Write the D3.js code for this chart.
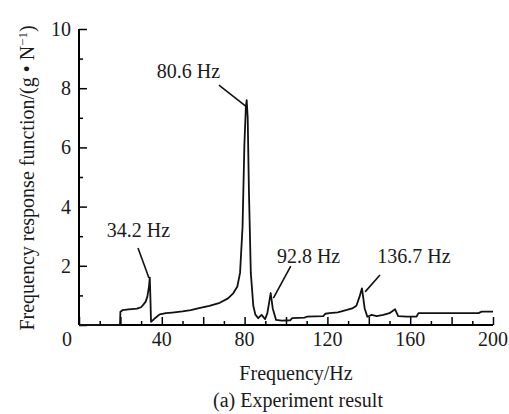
<!DOCTYPE html>
<html>
<head>
    <title>frf</title>
    <style>
        body {
            background: #ffffff;
            margin: 0;
            padding: 0;
        }
        svg text {
            font-family: "Liberation Serif", "Times New Roman", serif;
            fill: #1a1a1a;
        }
    </style>
</head>
<body>
    <svg id="chart" width="509" height="414"></svg>

    <script src="https://d3js.org/d3.v7.min.js"></script>
    <script>
        // measured curve (Hz, g/N)
        const freq = [0, 19.8, 20, 21, 24, 28, 30, 31, 32.2, 33, 33.8, 34.2, 34.5, 34.8, 35.5, 36.7, 39, 42, 45, 50,
            54, 58, 63, 68, 72, 74.6, 76.5, 77.8, 79, 79.9, 80.6, 81, 81.5, 82.1, 83, 84.2, 85.2, 86.6, 88.2, 89.9,
            91, 92.6, 93.6, 95.2, 98, 102, 103, 109, 110, 118, 119, 121, 125, 129, 132, 134, 135.5, 136.7, 138, 139.3,
            141.4, 143.8, 147, 150, 152.7, 154.2, 158.3, 163, 164, 170, 180, 193, 194.5, 200];
        const frf = [0, 0, 0.45, 0.5, 0.53, 0.55, 0.6, 0.68, 0.79, 0.95, 1.3, 1.6, 0.9, 0.11, 0.15, 0.23, 0.36, 0.4, 0.42, 0.46,
            0.5, 0.57, 0.65, 0.75, 0.9, 1.08, 1.3, 1.76, 3.3, 6.1, 7.35, 7.6, 7.0, 4.5, 1.76, 0.65, 0.35, 0.23, 0.34, 0.2,
            0.4, 1.08, 0.56, 0.17, 0.15, 0.16, 0.23, 0.25, 0.28, 0.3, 0.38, 0.4, 0.43, 0.5, 0.56, 0.65, 0.95, 1.24, 0.56, 0.28,
            0.34, 0.3, 0.34, 0.4, 0.53, 0.3, 0.28, 0.28, 0.4, 0.4, 0.4, 0.4, 0.45, 0.45];

        // peak labels and their leader lines (data units)
        const peakLabels = ['34.2 Hz', '80.6 Hz', '92.8 Hz', '136.7 Hz'];
        const labelX = [28.7, 52.9, 110.9, 161.8];
        const labelY = [2.97, 8.34, 2.09, 2.09];
        const leaderFrom = [[28.5, 2.6], [67.6, 8.1], [102.3, 1.99], [145.4, 1.69]];
        const leaderTo = [[33.8, 1.59], [81, 7.37], [93.9, 0.91], [138.2, 1.12]];

        const xTicks = [0, 40, 80, 120, 160, 200];
        const yTicks = [2, 4, 6, 8, 10];

        const svg = d3.select('#chart');

        const x = d3.scaleLinear().domain([0, 200]).range([79, 493]);
        const y = d3.scaleLinear().domain([0, 10]).range([325, 29]);

        // x axis, ticks pointing inward
        const xAxis = svg.append('g').attr('transform', `translate(0, ${y(0)})`);
        xAxis.call(d3.axisTop(x).tickValues(d3.range(0, 201, 10)).tickSize(4).tickFormat(''));
        xAxis.selectAll('.tick line').filter(d => d % 20 === 0).attr('y2', -8);
        xAxis.select('.domain').attr('stroke-width', 2).attr('d', `M${x(0)},0H${x(200)}`);
        xAxis.selectAll('.tick line').attr('stroke-width', 1.5);

        svg.append('g').selectAll('text')
            .data(xTicks)
            .join('text')
            .attr('x', d => x(d) + (d === 0 ? -12 : 0))
            .attr('y', y(0) + 21)
            .attr('text-anchor', 'middle')
            .style('font-size', '20px')
            .text(d => d);

        // y axis
        const yAxis = svg.append('g').attr('transform', `translate(${x(0)}, 0)`);
        yAxis.call(d3.axisRight(y).tickValues(d3.range(0, 11, 1)).tickSize(4).tickFormat(''));
        yAxis.selectAll('.tick line').filter(d => d % 2 === 0).attr('x2', 8);
        yAxis.select('.domain').attr('stroke-width', 2).attr('d', `M0,${y(10)}V${y(0)}`);
        yAxis.selectAll('.tick line').attr('stroke-width', 1.5);

        svg.append('g').selectAll('text')
            .data(yTicks)
            .join('text')
            .attr('x', x(0) - 8)
            .attr('y', d => y(d))
            .attr('dy', '0.35em')
            .attr('text-anchor', 'end')
            .style('font-size', '20px')
            .text(d => d);

        // curve
        const line = d3.line()
            .x((d, i) => x(freq[i]))
            .y(d => y(d));

        svg.append('path')
            .datum(frf)
            .attr('fill', 'none')
            .attr('stroke', '#111')
            .attr('stroke-width', 1.8)
            .attr('stroke-linejoin', 'round')
            .attr('d', line);

        // annotations
        peakLabels.forEach((label, i) => {
            svg.append('line')
                .attr('x1', x(leaderFrom[i][0]))
                .attr('y1', y(leaderFrom[i][1]))
                .attr('x2', x(leaderTo[i][0]))
                .attr('y2', y(leaderTo[i][1]))
                .attr('stroke', '#111')
                .attr('stroke-width', 1.6);
            svg.append('text')
                .attr('x', x(labelX[i]))
                .attr('y', y(labelY[i]))
                .attr('text-anchor', 'middle')
                .style('font-size', '20px')
                .text(label);
        });

        // axis titles
        svg.append('text')
            .attr('x', 296)
            .attr('y', 380)
            .attr('text-anchor', 'middle')
            .style('font-size', '20px')
            .text('Frequency/Hz');

        svg.append('text')
            .attr('x', 298)
            .attr('y', 407)
            .attr('text-anchor', 'middle')
            .style('font-size', '20px')
            .text('(a) Experiment result');

        const yTitle = svg.append('text')
            .attr('transform', 'translate(34, 178) rotate(-90)')
            .attr('text-anchor', 'middle')
            .style('font-size', '20px');
        yTitle.append('tspan').text('Frequency response function/(g • N');
        yTitle.append('tspan').attr('dy', -7).style('font-size', '13px').text('−1');
        yTitle.append('tspan').attr('dy', 7).text(')');
    </script>
</body>
</html>
